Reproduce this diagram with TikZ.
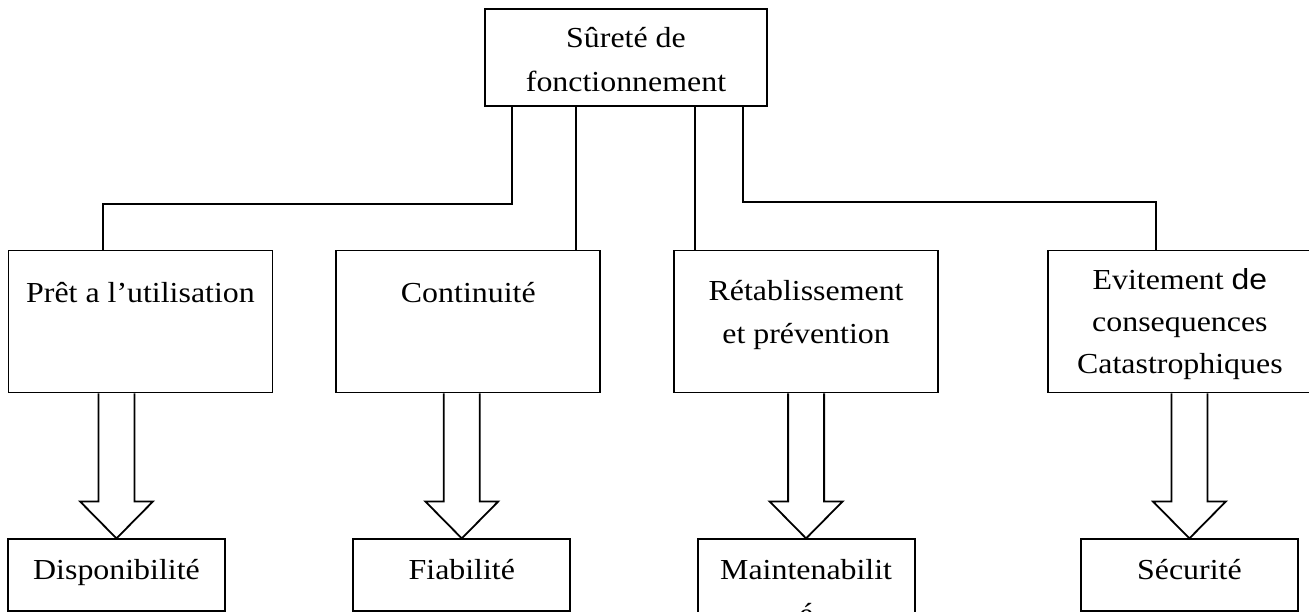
\documentclass[tikz,border=0pt]{standalone}
\usepackage{fontspec}
\setmainfont[FakeStretch=1.1]{Liberation Serif}
\setsansfont[FakeStretch=1.1]{Liberation Sans}
\usetikzlibrary{positioning, calc}

\begin{document}
\begin{tikzpicture}[x=0.5pt, y=-0.5pt, line width=0.9pt,
  txt/.style={draw, align=center, inner sep=0pt, font=\fontsize{14.5}{21.5}\selectfont},
  rootbox/.style={txt, minimum width=141pt, text height=41pt, text depth=7.5pt, font=\fontsize{14.5}{22}\selectfont},
  midbox/.style={txt, minimum width=132pt, text height=25.75pt, text depth=45.25pt},
  leafbox/.style={txt, minimum width=108.5pt, text height=20.25pt, text depth=15.75pt}
]
\useasboundingbox (0,0) rectangle (1309,611);
\node[rootbox] (sdf) at (626,57.5) {Sûreté de\\fonctionnement};
\node[midbox] (pret) at (140.5,321.5) {Prêt a l’utilisation};
\node[midbox, right=31pt of pret] (cont) {Continuité};
\node[midbox, right=36pt of cont, text height=46.25pt, text depth=24.75pt] (retab) {Rétablissement\\et prévention};
\node[midbox, right=54pt of retab, text height=61.25pt, text depth=9.75pt, font=\fontsize{14.5}{21}\selectfont] (evit) {Evitement {\sffamily de}\\consequences\\Catastrophiques};
\node[leafbox, below=72.5pt of pret, xshift=-12pt] (dispo) {Disponibilité};
\node[leafbox, below=72.5pt of cont, xshift=-3.25pt] (fiab) {Fiabilité};
\node[leafbox, below=72.5pt of retab, text height=42.25pt, text depth=-6.25pt, font=\fontsize{14.5}{22}\selectfont] (maint) {Maintenabilit\\é};
\node[leafbox, below=72.5pt of evit, xshift=4.75pt] (secu) {Sécurité};
% branches
\draw ([xshift=-57pt]sdf.south) -- ++(0,-48.5pt) -| ([xshift=-18.75pt]pret.north);
\draw ([xshift=-25pt]sdf.south) -- ([xshift=-25pt]sdf.south |- cont.north);
\draw ([xshift=34.5pt]sdf.south) -- ([xshift=34.5pt]sdf.south |- retab.north);
\draw ([xshift=58.5pt]sdf.south) -- ++(0,-47.5pt) -| ([xshift=-12pt]evit.north);
% hollow arrows
\draw ($(pret.south -| dispo.north)+(-9pt,0)$) -- ++(0,-54pt) -- ++(-9.25pt,0) -- (dispo.north) -- ++(18.25pt,18.5pt) -- ++(-9.25pt,0) -- ++(0,54pt);
\draw ($(cont.south -| fiab.north)+(-9pt,0)$) -- ++(0,-54pt) -- ++(-9.25pt,0) -- (fiab.north) -- ++(18.25pt,18.5pt) -- ++(-9.25pt,0) -- ++(0,54pt);
\draw ($(retab.south -| maint.north)+(-9pt,0)$) -- ++(0,-54pt) -- ++(-9.25pt,0) -- (maint.north) -- ++(18.25pt,18.5pt) -- ++(-9.25pt,0) -- ++(0,54pt);
\draw ($(evit.south -| secu.north)+(-9pt,0)$) -- ++(0,-54pt) -- ++(-9.25pt,0) -- (secu.north) -- ++(18.25pt,18.5pt) -- ++(-9.25pt,0) -- ++(0,54pt);
\end{tikzpicture}
\end{document}
